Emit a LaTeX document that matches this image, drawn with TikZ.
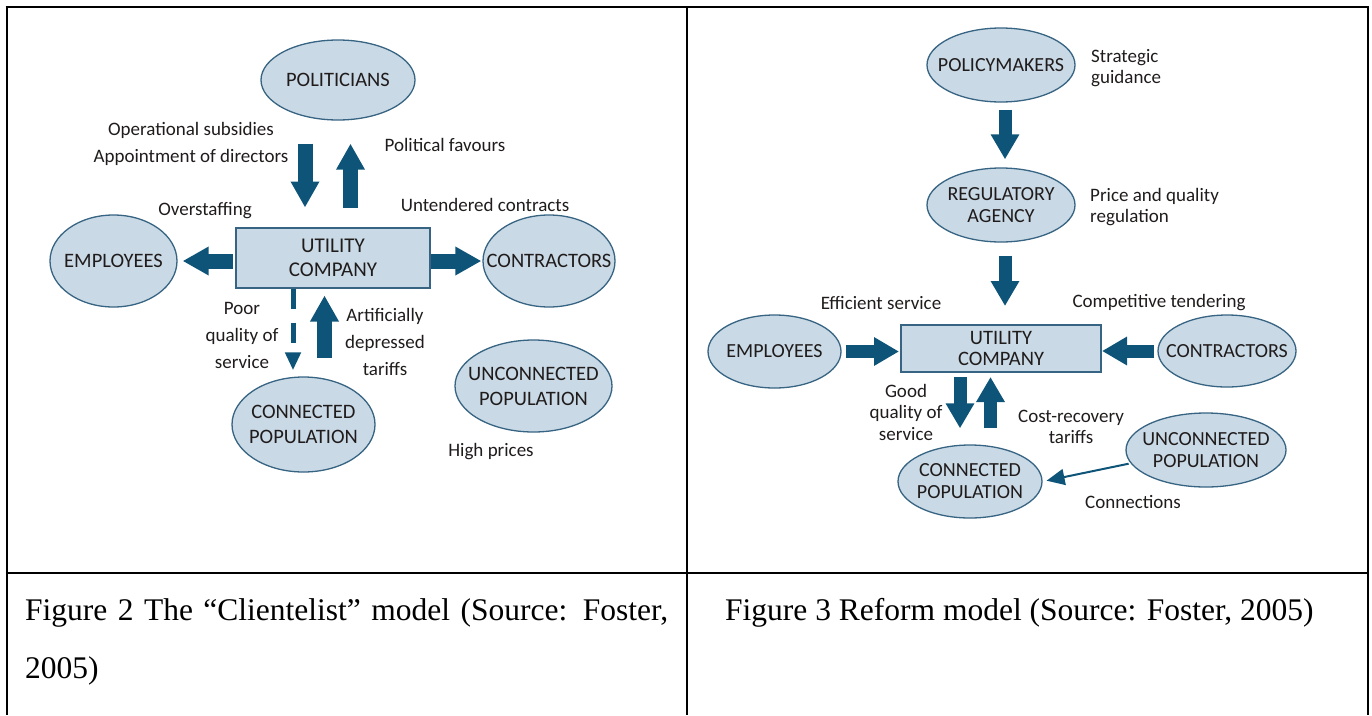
\documentclass[tikz,border=0pt]{standalone}
\usepackage{fontspec}
\setmainfont{Liberation Serif}
\newfontfamily\diagfont{Carlito}
\usetikzlibrary{shapes.geometric,arrows.meta}

\definecolor{ovalfill}{RGB}{201,217,230}
\definecolor{ovaledge}{RGB}{55,100,130}
\definecolor{flow}{RGB}{14,84,120}
\definecolor{ink}{RGB}{32,28,28}

% zero-width line, so the ellipse keeps the size it is given
\newcommand\zw[1]{\makebox[0pt]{#1}}

\begin{document}
\begin{tikzpicture}[x=1pt,y=-1pt,
  rule/.style={line width=2pt, black},
  oval/.style={ellipse, draw=ovaledge, line width=1.3pt, fill=ovalfill, inner sep=0pt,
    align=center, text=ink, font=\diagfont\fontsize{20.5}{25}\selectfont},
  ovalR/.style={oval, font=\diagfont\fontsize{20}{22}\selectfont},
  firm/.style={rectangle, draw=ovaledge, line width=2pt, fill=ovalfill, inner sep=0pt,
    align=center, text=ink},
  lbl/.style={align=center, text=ink, inner sep=0pt, font=\diagfont\fontsize{19}{27}\selectfont},
  lblR/.style={lbl, font=\diagfont\fontsize{19}{21.5}\selectfont},
  flowL/.style={draw=flow, line width=15pt, -{Triangle[width=27pt,length=26pt]}},
  flowR/.style={draw=flow, line width=13pt, -{Triangle[width=27pt,length=25pt]}},
  dashflow/.style={draw=flow, line width=5pt, dash pattern=on 20pt off 14pt,
    -{Triangle[width=15pt,length=18pt]}},
  thinflow/.style={draw=flow, line width=2pt, -{Triangle[width=16pt,length=18pt]}},
  caption/.style={inner sep=0pt, font=\fontsize{31.5}{58}\selectfont, anchor=base west}
]
\useasboundingbox (0,0) rectangle (1372,715);

% table frame
\draw[rule] (5.7,7) -- (1368.7,7);
\draw[rule] (6.7,6) -- (6.7,715);
\draw[rule] (686.7,6) -- (686.7,715);
\draw[rule] (1367.7,6) -- (1367.7,715);
\draw[rule] (5.7,572.7) -- (1368.7,572.7);

% ---------- clientelist model ----------
\node[oval, minimum width=154pt, minimum height=80pt] (pol) at (338,80) {\zw{POLITICIANS}};
\node[firm, minimum width=194pt, minimum height=60pt, font=\diagfont\fontsize{21}{24}\selectfont]
  (util) at (333,257.5) {UTILITY\\COMPANY};
\node[oval, minimum width=127pt, minimum height=92pt] (emp) at (113.5,261) {\zw{EMPLOYEES}};
\node[oval, minimum width=132pt, minimum height=92pt] (con) at (549,261) {\zw{CONTRACTORS}};
\node[oval, minimum width=143pt, minimum height=95pt] (cpop) at (303.5,424.5)
  {\zw{CONNECTED}\\\zw{POPULATION}};
\node[oval, minimum width=157pt, minimum height=92pt] (upop) at (533.5,386)
  {\zw{UNCONNECTED}\\\zw{POPULATION}};

\node[lbl] (l-subs) at (191,144) {Operational subsidies\\Appointment of directors};
\node[lbl] (l-fav) at (445,145) {Political favours};
\node[lbl] (l-unt) at (485,205) {Untendered contracts};
\node[lbl] (l-over) at (205,211) {Overstaffing};
\node[lbl] (l-poor) at (242,335) {Poor\\quality of\\service};
\node[lbl] (l-art) at (385,342) {Artificially\\depressed\\tariffs};
\node[lbl] (l-high) at (491,452) {High prices};

\draw[flowL] ([xshift=-33pt,yshift=-23pt]pol.south) -- ([xshift=-28pt,yshift=19pt]util.north);
\draw[flowL] ([xshift=17.5pt,yshift=19pt]util.north) -- ([xshift=12.5pt,yshift=-23pt]pol.south);
\draw[flowL, shorten <=2pt, shorten >=5pt] (util.west |- emp.east) -- (emp.east);
\draw[flowL, shorten >=1pt] (util.east |- con.west) -- (con.west);
\draw[dashflow] ([xshift=-40pt]util.south) -- ([xshift=-10.5pt,yshift=6pt]cpop.north);
\draw[flowL] ([xshift=21pt,yshift=18pt]cpop.north) -- ([xshift=-8.5pt,yshift=-7pt]util.south);

% ---------- reform model ----------
\node[ovalR, minimum width=148pt, minimum height=74pt] (pm) at (1001,65) {\zw{POLICYMAKERS}};
\node[ovalR, minimum width=148pt, minimum height=74pt] (reg) at (1001,205)
  {\zw{REGULATORY}\\\zw{AGENCY}};
\node[firm, minimum width=200pt, minimum height=47pt, font=\diagfont\fontsize{20.5}{21}\selectfont]
  (util2) at (1001,348.5) {UTILITY\\COMPANY};
\node[ovalR, minimum width=133pt, minimum height=73pt] (emp2) at (774.5,351.5) {\zw{EMPLOYEES}};
\node[ovalR, minimum width=138pt, minimum height=72pt] (con2) at (1227,351) {\zw{CONTRACTORS}};
\node[ovalR, minimum width=144pt, minimum height=73pt] (cpop2) at (970,481.5)
  {\zw{CONNECTED}\\\zw{POPULATION}};
\node[ovalR, minimum width=160pt, minimum height=74pt] (upop2) at (1206,450)
  {\zw{UNCONNECTED}\\\zw{POPULATION}};

\node[lblR, anchor=west, align=left] (r-strat) at (1091,68) {Strategic\\guidance};
\node[lblR, anchor=west, align=left] (r-price) at (1090,207) {Price and quality\\regulation};
\node[lblR] (r-eff) at (881,303) {Efficient service};
\node[lblR] (r-comp) at (1159,303) {Competitive tendering};
\node[lblR] (r-good) at (906,412) {Good\\quality of\\service};
\node[lblR] (r-cost) at (1071,427) {Cost-recovery\\tariffs};
\node[lblR] (r-conn) at (1133,502) {Connections};

\draw[flowR] ([xshift=4pt,yshift=-7pt]pm.south) -- ([xshift=4pt,yshift=8pt]reg.north);
\draw[flowR] ([xshift=4pt,yshift=-13pt]reg.south) -- ([xshift=4pt,yshift=18pt]util2.north);
\draw[flowR, shorten <=4pt, shorten >=1pt] (emp2.east) -- (emp2.east -| util2.west);
\draw[flowR, shorten <=3pt] (con2.west) -- (con2.west -| util2.east);
\draw[flowR] ([xshift=-41pt,yshift=-4pt]util2.south) -- ([xshift=-10pt,yshift=16pt]cpop2.north);
\draw[flowR] ([xshift=20.5pt,yshift=16pt]cpop2.north) -- ([xshift=-10.5pt,yshift=-4pt]util2.south);
\draw[thinflow, shorten <=2pt, shorten >=4pt] (upop2.190) -- (cpop2.east);

% ---------- captions ----------
\node[caption, text width=643pt, align=justify] (cap2) at (25,620)
  {Figure 2 The “Clientelist” model (Source: Foster, 2005)};
\node[caption] (cap3) at (725,620) {Figure 3 Reform model (Source: Foster, 2005)};
\end{tikzpicture}
\end{document}
